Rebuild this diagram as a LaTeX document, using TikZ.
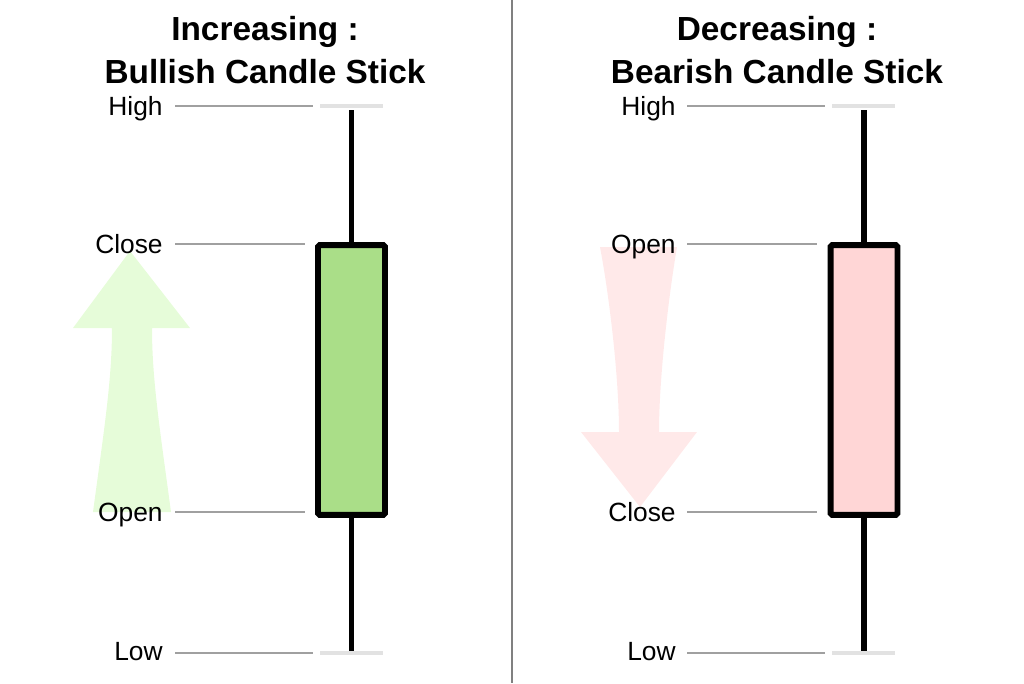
\documentclass[tikz,border=0pt]{standalone}
\usepackage{fontspec}
\setmainfont{Liberation Sans}
\definecolor{bullfill}{HTML}{AADE88}
\definecolor{bearfill}{HTML}{FFD6D6}
\definecolor{bullarrow}{HTML}{E6FCD9}
\definecolor{beararrow}{HTML}{FFE9E9}
\definecolor{guidegray}{HTML}{A0A0A0}
\definecolor{capgray}{HTML}{E2E2E2}
\tikzset{
  guide/.style={guidegray,line width=1.1pt},
  capline/.style={capgray,line width=2.3pt},
  wick/.style={black,line width=2.9pt},
  body/.style={draw=black,line width=3.4pt,rounded corners=1pt,minimum width=1.34cm,minimum height=5.4cm,inner sep=0pt},
  lbl/.style={anchor=base east,inner sep=0pt,font=\fontsize{15}{18}\selectfont},
  ttl/.style={align=center,font=\fontsize{19}{24}\selectfont\bfseries}
}
\begin{document}
\begin{tikzpicture}[x=0.02cm,y=-0.02cm]
\useasboundingbox (0,0) rectangle (1024,683);
\draw[gray,line width=0.6pt] (512,0) -- (512,683);
% increasing side
\fill[bullarrow] (93,512) .. controls (104,430) and (112,380) .. (112,328) -- (73,328) -- (130,251) -- (190,328) -- (152,328) .. controls (152,380) and (160,430) .. (171,512) -- cycle;
\node[ttl] (ttlA) at (265,50) {Increasing :\\Bullish Candle Stick};
\node[lbl] (hiA) at (163,115) {High};
\node[lbl] (clA) at (163,253) {Close};
\node[lbl] (opA) at (163,521) {Open};
\node[lbl] (loA) at (163,660) {Low};
\draw[guide] (175,106) -- (313,106) (175,244) -- (305,244) (175,512) -- (305,512) (175,653) -- (313,653);
\draw[capline] (320,106) -- (383,106) (320,653) -- (383,653);
\node[body,fill=bullfill] (bodyA) at (351.5,380) {};
\draw[wick] (bodyA.north) -- (351.5,110);
\draw[wick] (bodyA.south) -- (351.5,651);
% decreasing side
\fill[beararrow] (600,247) -- (677,247) .. controls (668,300) and (659,380) .. (659,432) -- (697,432) -- (640,507) -- (581,432) -- (619,432) .. controls (619,380) and (610,300) .. (600,247) -- cycle;
\node[ttl] (ttlB) at (777,50) {Decreasing :\\Bearish Candle Stick};
\node[lbl] (hiB) at (676,115) {High};
\node[lbl] (opB) at (676,253) {Open};
\node[lbl] (clB) at (676,521) {Close};
\node[lbl] (loB) at (676,660) {Low};
\draw[guide] (687,106) -- (825,106) (687,244) -- (817,244) (687,512) -- (817,512) (687,653) -- (825,653);
\draw[capline] (832,106) -- (895,106) (832,653) -- (895,653);
\node[body,fill=bearfill] (bodyB) at (864,380) {};
\draw[wick] (bodyB.north) -- (864,110);
\draw[wick] (bodyB.south) -- (864,651);
\end{tikzpicture}
\end{document}
